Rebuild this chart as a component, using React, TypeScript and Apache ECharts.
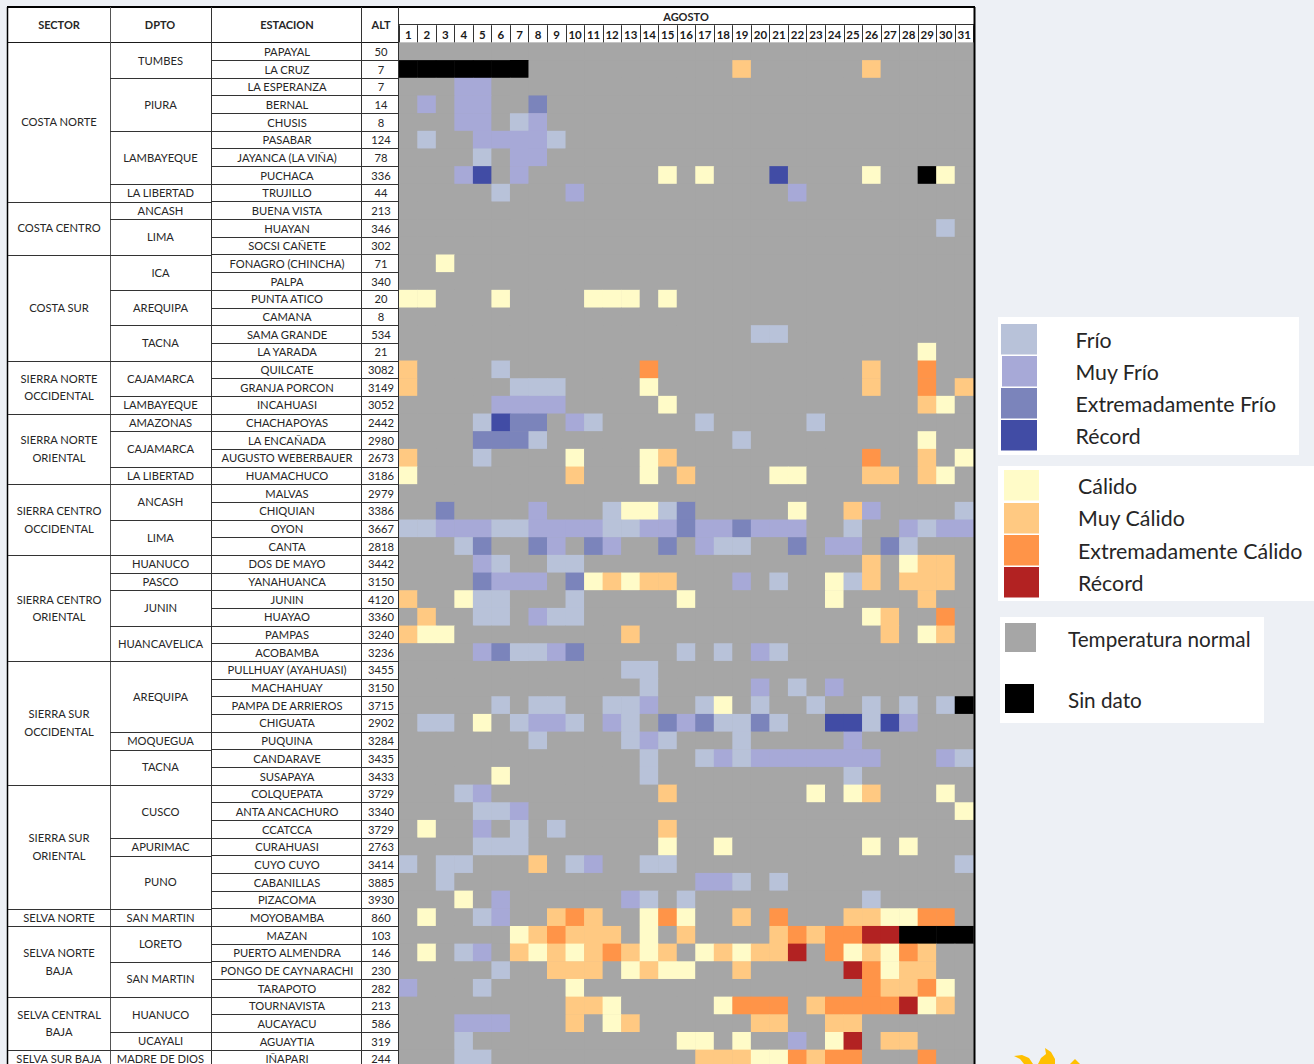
import React, { useEffect, useRef } from "react";
import * as echarts from "echarts";

const days = Array.from({ length: 31 }, (_, i) => String(i + 1));

const stations = ["PAPAYAL","LA CRUZ","LA ESPERANZA","BERNAL","CHUSIS","PASABAR","JAYANCA (LA VIÑA)","PUCHACA","TRUJILLO","BUENA VISTA","HUAYAN","SOCSI CAÑETE","FONAGRO (CHINCHA)","PALPA","PUNTA ATICO","CAMANA","SAMA GRANDE","LA YARADA","QUILCATE","GRANJA PORCON","INCAHUASI","CHACHAPOYAS","LA ENCAÑADA","AUGUSTO WEBERBAUER","HUAMACHUCO","MALVAS","CHIQUIAN","OYON","CANTA","DOS DE MAYO","YANAHUANCA","JUNIN","HUAYAO","PAMPAS","ACOBAMBA","PULLHUAY (AYAHUASI)","MACHAHUAY","PAMPA DE ARRIEROS","CHIGUATA","PUQUINA","CANDARAVE","SUSAPAYA","COLQUEPATA","ANTA ANCACHURO","CCATCCA","CURAHUASI","CUYO CUYO","CABANILLAS","PIZACOMA","MOYOBAMBA","MAZAN","PUERTO ALMENDRA","PONGO DE CAYNARACHI","TARAPOTO","TOURNAVISTA","AUCAYACU","AGUAYTIA","IÑAPARI"];

const altitudes = ["50","7","7","14","8","124","78","336","44","213","346","302","71","340","20","8","534","21","3082","3149","3052","2442","2980","2673","3186","2979","3386","3667","2818","3442","3150","4120","3360","3240","3236","3455","3150","3715","2902","3284","3435","3433","3729","3340","3729","2763","3414","3885","3930","860","103","146","230","282","213","586","319","244"];

const sectorNames = ["COSTA NORTE","COSTA CENTRO","COSTA SUR","SIERRA NORTE\nOCCIDENTAL","SIERRA NORTE\nORIENTAL","SIERRA CENTRO\nOCCIDENTAL","SIERRA CENTRO\nORIENTAL","SIERRA SUR\nOCCIDENTAL","SIERRA SUR\nORIENTAL","SELVA NORTE","SELVA NORTE\nBAJA","SELVA CENTRAL\nBAJA","SELVA SUR BAJA"];
const sectorSpans = [9,3,6,3,4,4,6,7,7,1,4,3,1];

const dptoNames = ["TUMBES","PIURA","LAMBAYEQUE","LA LIBERTAD","ANCASH","LIMA","ICA","AREQUIPA","TACNA","CAJAMARCA","LAMBAYEQUE","AMAZONAS","CAJAMARCA","LA LIBERTAD","ANCASH","LIMA","HUANUCO","PASCO","JUNIN","HUANCAVELICA","AREQUIPA","MOQUEGUA","TACNA","CUSCO","APURIMAC","PUNO","SAN MARTIN","LORETO","SAN MARTIN","HUANUCO","UCAYALI","MADRE DE DIOS"];
const dptoSpans = [2,3,3,1,1,2,2,2,2,2,1,1,2,1,2,2,1,1,2,2,4,1,2,3,1,3,1,2,2,2,1,1];

// codes: F frío, M muy frío, E extremadamente frío, R récord frío,
// c cálido, m muy cálido, e extremadamente cálido, r récord cálido, X sin dato
const rowMarks = [
  "",
  "1-7X 19m 26m",
  "4-5M",
  "2M 4-5M 8E",
  "4-5M 7F 8M",
  "2F 5-8M 9F",
  "5F 7-8M",
  "4M 5R 7M 15c 17c 21R 26c 29X 30c",
  "6F 10M 22M",
  "",
  "30F",
  "",
  "3c",
  "",
  "1-2c 6c 11-13c 15c",
  "",
  "20-21F",
  "29c",
  "1m 6F 14e 26m 29e",
  "1m 7-9F 14c 26m 29e 31m",
  "6-9M 15c 29m 30c",
  "5F 6R 7-8E 10M 11F 17F 23F",
  "5-7E 8F 19F 29c",
  "1m 5F 10c 14c 15m 26e 29m 31c",
  "1c 10m 14c 16m 21-22c 26-27m 29m 30c",
  "",
  "3E 8M 12F 13-14c 15F 16E 22c 25m 26M 31F",
  "1-2F 3-5M 6-7F 8-11M 12-13F 14-15M 16E 17-18M 19E 20-22M 25F 28M 29F 30-31M",
  "4F 5E 8E 9M 11E 12M 15E 17M 18-19F 22E 24-25M 27E 28F",
  "5M 6F 9-10F 26m 28c 29-30m",
  "5E 6-8M 10E 11c 12m 13c 14-15m 19M 21F 24c 25F 26m 28-30m",
  "1m 4c 5-6F 10F 16c 24c 29m",
  "2m 5-6F 8M 9-10F 26c 27m 30e",
  "1m 2-3c 13m 27m 29c 30m",
  "5M 6E 7-8F 9M 10E 16F 18F 20M 21F",
  "13-14F",
  "14F 20M 22F 24M",
  "6F 8-9F 12-13F 14M 17F 18c 20F 23F 26F 28F 30F 31X",
  "2-3F 5c 7F 8-9M 10F 12M 13F 15E 16M 17E 18-19F 20E 21F 24-25R 26F 27R 28M",
  "8F 13F 14M 15F 19F 25M",
  "14F 17F 18M 19F 20-26M 30M 31F",
  "6c 14F 25F",
  "4F 5M 15m 23c 25c 26m 30c",
  "5-6F 7M 31c",
  "2c 5M 7F 9F 15m",
  "5-7F 15c 18c 26c 28c",
  "1F 3-4F 8m 10F 11M 14-15F 31F",
  "3F 17-18M 19F 21F",
  "4c 6M 13M 14F 16F 26F",
  "2c 5F 6M 9m 10e 11m 14c 15e 16c 19m 21e 25-26m 27-28c 29-30e",
  "7c 8m 9e 10-12m 14c 16m 21m 22e 23m 24-25e 26-27r 28-31X",
  "2c 4F 5M 7m 8c 9m 10c 11m 12e 13m 14c 15m 17c 18m 19c 20-21m 22r 24e 25c 26m 27c 28e 29m",
  "6F 9-11m 13c 14m 15-16c 19m 25r 26e 27c 28-29m",
  "1M 5F 10c 26e 27-28m 29e 30c",
  "10-11m 12c 18c 19-21e 23m 24-27e 28r 29c 30m",
  "4-6M 10m 12c 13m 20-21m 24-25m",
  "4F 16-17c 19c 22M 24c 25r 27-28m",
  "4-5F 17-19m 20-21c 22e 23m 24-25e 29e",
];

const groupACodes = ["F", "M", "E", "R"];
const groupALabels = ["Frío", "Muy Frío", "Extremadamente Frío", "Récord"];
const groupAColors = ["#b8c2d9", "#a7a9d7", "#7b84bb", "#414ca5"];
const groupBCodes = ["c", "m", "e", "r"];
const groupBLabels = ["Cálido", "Muy Cálido", "Extremadamente Cálido", "Récord"];
const groupBColors = ["#fffbc8", "#ffc982", "#ff9448", "#b22222"];
const normalLabel = "Temperatura normal";
const normalColor = "#a6a6a6";
const noDataLabel = "Sin dato";
const noDataColor = "#000000";

const FONT = "Lato";
const TEXT = "#262626";
const GRID_L = 399;
const GRID_R = 973.5;
const GRID_T = 42.7;
const ROW_H = 17.67;
const TABLE_L = 8;
const COL_DPTO = 110;
const COL_EST = 211;
const COL_ALT = 362;
const BOTTOM = 1080;
const BODY_SIZE = 11.2;

const allCodes = [...groupACodes, ...groupBCodes, "X"];
const codeValue = (c: string) => allCodes.indexOf(c) + 1;

function buildCells() {
  const out: number[][] = [];
  rowMarks.forEach((marks, r) => {
    const row = new Array(31).fill(0);
    marks.split(" ").filter(Boolean).forEach((tok) => {
      const code = tok[tok.length - 1];
      const [a, b] = tok.slice(0, -1).split("-").map(Number);
      for (let d = a; d <= (b || a); d++) row[d - 1] = codeValue(code);
    });
    row.forEach((v, c) => out.push([c, r, v]));
  });
  return out;
}

const hline = (x1: number, x2: number, y: number, stroke = "#1a1a1a", lineWidth = 1) => ({
  type: "line", z: 5, shape: { x1, x2, y1: y, y2: y }, style: { stroke, lineWidth },
});
const vline = (x: number, y1: number, y2: number, stroke = "#1a1a1a", lineWidth = 1) => ({
  type: "line", z: 5, shape: { x1: x, x2: x, y1, y2 }, style: { stroke, lineWidth },
});
const label = (x: number, y: number, text: string, fontSize: number, fontWeight = "normal", textAlign = "center") => ({
  type: "text", z: 6, x, y,
  style: {
    text, fontFamily: FONT, fontSize, fontWeight, fill: TEXT, textAlign, textVerticalAlign: "middle",
    ...(text.includes("\n") ? { lineHeight: ROW_H } : {}),
  },
});
const box = (x: number, y: number, width: number, height: number, fill: string, z = 0) => ({
  type: "rect", z, shape: { x, y, width, height }, style: { fill },
});
const rowY = (i: number) => Math.round(GRID_T + i * ROW_H) + 0.5;

function spanElements(names: string[], spans: number[], x1: number, x2: number, fontSize: number) {
  const els: any[] = [];
  let start = 0;
  names.forEach((n, i) => {
    const end = start + spans[i];
    els.push(label((x1 + x2) / 2, GRID_T - 0.3 + ((start + end) / 2) * ROW_H, n, fontSize));
    els.push(hline(x1, x2, rowY(end), "#333333"));
    start = end;
  });
  return els;
}

function buildGraphics() {
  const els: any[] = [
    box(TABLE_L, 7, 974 - TABLE_L, BOTTOM - 7, "#ffffff", -1),
    box(998, 317, 301, 138, "#ffffff", -1),
    box(998, 466, 316, 135, "#ffffff", -1),
    box(1000, 617, 264, 106, "#ffffff", -1),
    hline(TABLE_L - 1, 975, 7, "#000000", 2),
    hline(TABLE_L, GRID_L, 42.5, "#1a1a1a", 1),
    hline(GRID_L, 974, 24.5, "#333333", 1),
    vline(7.5, 7, BOTTOM, "#000000", 1.5),
    vline(COL_DPTO + 0.5, 7, BOTTOM, "#555555", 1),
    vline(COL_EST + 0.5, 7, BOTTOM, "#333333", 1),
    vline(COL_ALT - 0.5, 7, BOTTOM, "#333333", 1),
    vline(GRID_L - 0.5, 7, BOTTOM, "#333333", 1),
    vline(974.5, 7, BOTTOM, "#000000", 2),
    label(59, 24.5, "SECTOR", 11, "bold"),
    label(160, 24.5, "DPTO", 11, "bold"),
    label(287, 24.5, "ESTACION", 11, "bold"),
    label(381, 24.5, "ALT", 11, "bold"),
    label(686, 16, "AGOSTO", 11, "bold"),
    ...spanElements(sectorNames, sectorSpans, TABLE_L, COL_DPTO, BODY_SIZE),
    ...spanElements(dptoNames, dptoSpans, COL_DPTO, COL_EST, BODY_SIZE),
  ];

  // legend
  const legendA = [[1001, 324], [1002, 356], [1001, 388], [1001, 420]];
  groupALabels.forEach((t, i) => {
    els.push(box(legendA[i][0], legendA[i][1], 1037 - legendA[i][0], 30.5, groupAColors[i]));
    els.push(label(1075.5, 340 + i * 32, t, 21.3, "normal", "left"));
  });
  const legendB = [470, 503, 535, 567];
  groupBLabels.forEach((t, i) => {
    els.push(box(1004, legendB[i], 35, 30.5, groupBColors[i]));
    els.push(label(1078, [486, 518, 551, 583][i], t, 21.4, "normal", "left"));
  });
  els.push(box(1005, 623, 31, 29, normalColor));
  els.push(label(1068, 639, normalLabel, 20.7, "normal", "left"));
  els.push(box(1005, 684, 29, 29, noDataColor));
  els.push(label(1068, 700, noDataLabel, 20.7, "normal", "left"));

  // sun logo, clipped by the bottom of the page
  const sun = "#ffc000";
  els.push({ type: "polygon", z: 1, shape: { points: [[1014, 1056], [1022, 1055], [1029, 1058], [1033, 1064], [1024, 1064], [1020, 1059]] }, style: { fill: sun } });
  els.push({ type: "polygon", z: 1, shape: { points: [[1045, 1048], [1051, 1052], [1055, 1059], [1055, 1064], [1038, 1064], [1041, 1058], [1046, 1054]] }, style: { fill: sun } });
  els.push({ type: "polygon", z: 1, shape: { points: [[1075, 1059], [1080, 1064], [1070, 1064]] }, style: { fill: sun } });
  return els;
}

export default function App() {
  const ref = useRef<HTMLDivElement>(null);
  useEffect(() => {
    const chart = echarts.init(ref.current!, undefined, { renderer: "svg" });
    chart.setOption({
      animation: false,
      backgroundColor: "#edf0f5",
      textStyle: { fontFamily: FONT },
      tooltip: { show: false },
      grid: {
        left: GRID_L, top: GRID_T, width: GRID_R - GRID_L, height: ROW_H * stations.length,
        show: true, backgroundColor: normalColor, borderWidth: 0, outerBoundsMode: "none",
      },
      xAxis: {
        type: "category", position: "top", data: days,
        axisLine: { show: false },
        axisTick: { show: true, length: 17.5, interval: 0, lineStyle: { color: "#333333", width: 1 } },
        axisLabel: { interval: 0, margin: 2.5, fontFamily: FONT, fontSize: 11.5, fontWeight: "bold", color: "#1a1a1a" },
        splitArea: { show: false }, splitLine: { show: false },
      },
      yAxis: [
        {
          type: "category", inverse: true, data: stations,
          axisLine: { show: false },
          axisTick: { show: true, length: GRID_L - COL_EST, interval: 0, lineStyle: { color: "#333333", width: 1 } },
          axisLabel: { interval: 0, align: "center", margin: GRID_L - 287, fontFamily: FONT, fontSize: BODY_SIZE, color: TEXT },
          splitArea: { show: false }, splitLine: { show: false },
        },
        {
          type: "category", inverse: true, position: "left", data: altitudes,
          axisLine: { show: false }, axisTick: { show: false },
          axisLabel: { interval: 0, align: "center", margin: GRID_L - 381, fontFamily: FONT, fontSize: BODY_SIZE, color: TEXT },
          splitArea: { show: false }, splitLine: { show: false },
        },
      ],
      visualMap: {
        show: false, type: "piecewise", dimension: 2, seriesIndex: 0,
        pieces: [
          { value: 0, color: normalColor },
          ...allCodes.map((c) => {
            const a = groupACodes.indexOf(c);
            const b = groupBCodes.indexOf(c);
            return { value: codeValue(c), color: a >= 0 ? groupAColors[a] : b >= 0 ? groupBColors[b] : noDataColor };
          }),
        ],
      },
      series: [{
        type: "heatmap", data: buildCells(), progressive: 0,
        emphasis: { disabled: true }, label: { show: false },
      }],
      graphic: { elements: buildGraphics() },
    });
    return () => chart.dispose();
  }, []);
  return (
    <div style={{ position: "absolute", left: 0, top: 0, width: 1314, height: 1064, overflow: "hidden" }}>
      <div ref={ref} style={{ width: 1314, height: 1080 }} />
    </div>
  );
}
